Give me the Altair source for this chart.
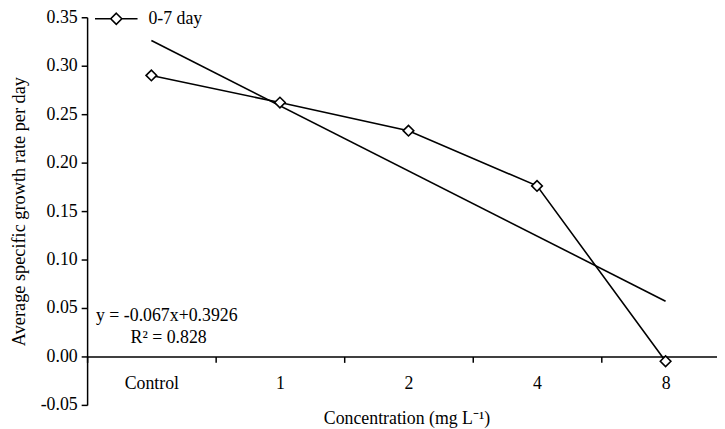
import altair as alt
import pandas as pd

categories = ["Control", "1", "2", "4", "8"]
growth_0_7 = [0.290, 0.262, 0.233, 0.176, -0.005]
series_name = "0-7 day"
trend_categories = ["Control", "8"]
trend_values = [0.326, 0.057]
y_ticks = [-0.05, 0.0, 0.05, 0.10, 0.15, 0.20, 0.25, 0.30, 0.35]
equation_lines = ["y = -0.067x+0.3926", "R² = 0.828"]

FONT = "Liberation Serif"

df = pd.DataFrame({
    "xi": list(range(len(categories))),
    "cat": categories,
    "value": growth_0_7,
    "series": [series_name] * len(categories),
})
trend_df = pd.DataFrame({
    "xi": [categories.index(c) for c in trend_categories],
    "value": trend_values,
})

label_js = "[" + ",".join("'%s'" % c for c in categories) + "]"

x_scale = alt.Scale(domain=[-0.5, 4.4], nice=False, zero=False)
y_scale = alt.Scale(domain=[-0.05, 0.35], nice=False, zero=False)

x_axis = alt.Axis(
    values=[-0.5, 0.5, 1.5, 2.5, 3.5],
    labelExpr=label_js + "[round(datum.value + 0.5)]",
    labelOffset=65,
    offset=-49,
    tickSize=6,
    labelPadding=12,
    labelOverlap=False,
    labelBound=False,
    labelFlush=False,
    grid=False,
    title="Concentration (mg L⁻¹)",
    titlePadding=18,
    titleX=323,
)
y_axis = alt.Axis(
    values=y_ticks,
    labelExpr="replace(format(datum.value, '.2f'), '−', '-')",
    tickSize=6,
    labelPadding=4,
    grid=False,
    title="Average specific growth rate per day",
    titleFontSize=18.5,
    titlePadding=12,
)

base = alt.Chart(df)

line = base.mark_line(strokeWidth=1.6).encode(
    x=alt.X("xi:Q", scale=x_scale, axis=x_axis),
    y=alt.Y("value:Q", scale=y_scale, axis=y_axis),
    color=alt.Color(
        "series:N",
        scale=alt.Scale(domain=[series_name], range=["black"]),
        legend=alt.Legend(
            title=None,
            orient="none",
            legendX=7,
            legendY=-21,
            symbolType="M-1,0L-0.26,0M0.26,0L1,0M0,-0.26L0.26,0L0,0.26L-0.26,0Z",
            symbolSize=1849,
            symbolStrokeWidth=1.6,
            symbolStrokeColor="black",
            symbolFillColor="white",
            labelFont=FONT,
            labelFontSize=18,
            labelColor="black",
            labelOffset=10,
        ),
    ),
)

points = base.mark_point(
    shape="diamond", size=115, filled=True, fill="white", stroke="black", strokeWidth=1.6, opacity=1
).encode(
    x=alt.X("xi:Q", scale=x_scale),
    y=alt.Y("value:Q", scale=y_scale),
)

trend = alt.Chart(trend_df).mark_line(color="black", strokeWidth=1.6).encode(
    x=alt.X("xi:Q", scale=x_scale),
    y=alt.Y("value:Q", scale=y_scale),
)

eq1 = alt.Chart(pd.DataFrame({"t": [equation_lines[0]]})).mark_text(
    align="left", baseline="middle", font=FONT, fontSize=18, color="black"
).encode(text="t:N", x=alt.value(9), y=alt.value(302))
eq2 = alt.Chart(pd.DataFrame({"t": [equation_lines[1]]})).mark_text(
    align="left", baseline="middle", font=FONT, fontSize=18, color="black"
).encode(text="t:N", x=alt.value(44), y=alt.value(324))

chart = alt.layer(trend, line, points, eq1, eq2).properties(
    width=637,
    height=392,
    autosize=alt.AutoSizeParams(type="none"),
    padding={"left": 80, "top": 7, "right": 0, "bottom": 22},
    background="white",
).configure_view(stroke=None).configure_axis(
    labelFont=FONT,
    labelFontSize=18,
    labelColor="black",
    titleFont=FONT,
    titleFontSize=18,
    titleFontWeight="normal",
    titleColor="black",
    domainColor="black",
    domainWidth=1.5,
    tickColor="black",
    tickWidth=1.5,
)

chart.save("out.html", embed_options={"renderer": "svg", "actions": False})
